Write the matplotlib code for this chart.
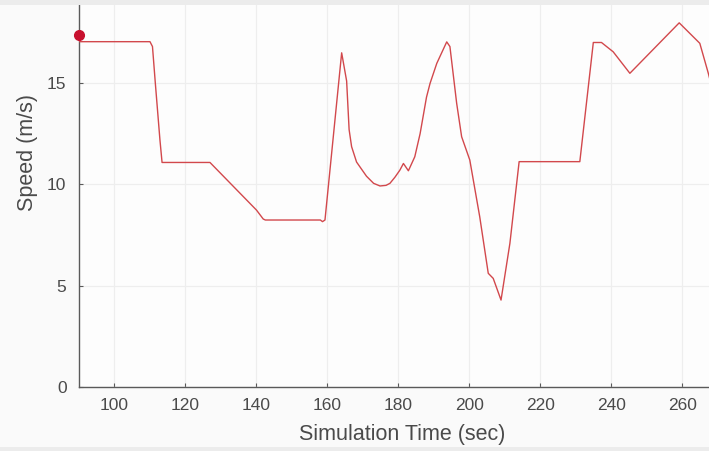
import matplotlib
matplotlib.use("Agg")
import matplotlib.pyplot as plt
from matplotlib.patches import Rectangle

time = [90, 110, 110.7, 111.5, 112.8, 113.4, 126.9, 140, 141.9, 142.5, 158, 158.6,
        159.3, 164.0, 165.4, 166.1, 166.8, 168.2, 171.0, 173, 174.8, 176.5, 177.6,
        179, 180.4, 181.4, 182.8, 184.6, 186.1, 187.9, 188.9, 190.8, 193.6, 194.5,
        196.4, 197.8, 200.1, 202.9, 205.3, 206.7, 208.9, 211.4, 214.0, 231.1, 234.9,
        237.2, 240.5, 245.2, 259.1, 264.9, 267.3, 268]
speed = [17.04, 17.04, 16.8, 15.0, 12.2, 11.08, 11.08, 8.73, 8.29, 8.24, 8.24, 8.16,
         8.24, 16.49, 15.1, 12.7, 11.86, 11.1, 10.4, 10.05, 9.92, 9.95, 10.05,
         10.35, 10.7, 11.03, 10.67, 11.36, 12.5, 14.3, 14.98, 15.97, 17.03, 16.8,
         14.0, 12.35, 11.2, 8.4, 5.61, 5.36, 4.29, 7.09, 11.12, 11.12, 17.0,
         17.0, 16.54, 15.48, 17.97, 16.96, 15.48, 15.0]
marker_t = [90]
marker_v = [17.37]
xticks = [100, 120, 140, 160, 180, 200, 220, 240, 260]
yticks = [0, 5, 10, 15]

plt.rcParams['font.family'] = ['Liberation Sans', 'DejaVu Sans']

W, H = 709, 451
fig = plt.figure(figsize=(W / 100, H / 100), dpi=100, facecolor='#fafafa')
ax = fig.add_axes([79 / W, 64 / H, (725 - 79) / W, (387 - 5) / H])
ax.set_facecolor('#fdfdfd')

ax.plot(time, speed, color='#d2484c', lw=1.0, zorder=3)
ax.plot(marker_t, marker_v, 'o', color='#c8102e', ms=7, zorder=4, clip_on=False)

ax.set_xlim(90, 272)
ax.set_ylim(0, 18.85)
ax.set_xticks(xticks)
ax.set_yticks(yticks)
ax.grid(True, color='#eeeeee', lw=0.9)
ax.set_axisbelow(True)

for s in ['top', 'right']:
    ax.spines[s].set_visible(False)
for s in ['left', 'bottom']:
    ax.spines[s].set_color('#5a5a5a')
    ax.spines[s].set_linewidth(1.0)

ax.tick_params(direction='in', length=3, width=0.8, color='#5a5a5a',
               labelcolor='#4a4a4a', labelsize=12.5)
ax.tick_params(axis='x', pad=8)
ax.tick_params(axis='y', pad=9)

ax.set_xlabel('Simulation Time (sec)', fontsize=15.5, color='#4a4a4a')
ax.set_ylabel('Speed (m/s)', fontsize=15.5, color='#4a4a4a')
ax.xaxis.set_label_coords(0.5, -0.098)
ax.yaxis.set_label_coords(-0.064, 0.615)

fig.patches.append(Rectangle((0, (H - 5) / H), 1, 5 / H, transform=fig.transFigure,
                             facecolor='#ececec', edgecolor='none', zorder=10))
fig.patches.append(Rectangle((0, 0), 1, 4 / H, transform=fig.transFigure,
                             facecolor='#ececec', edgecolor='none', zorder=10))

fig.savefig('out.png', dpi=100, facecolor=fig.get_facecolor())
